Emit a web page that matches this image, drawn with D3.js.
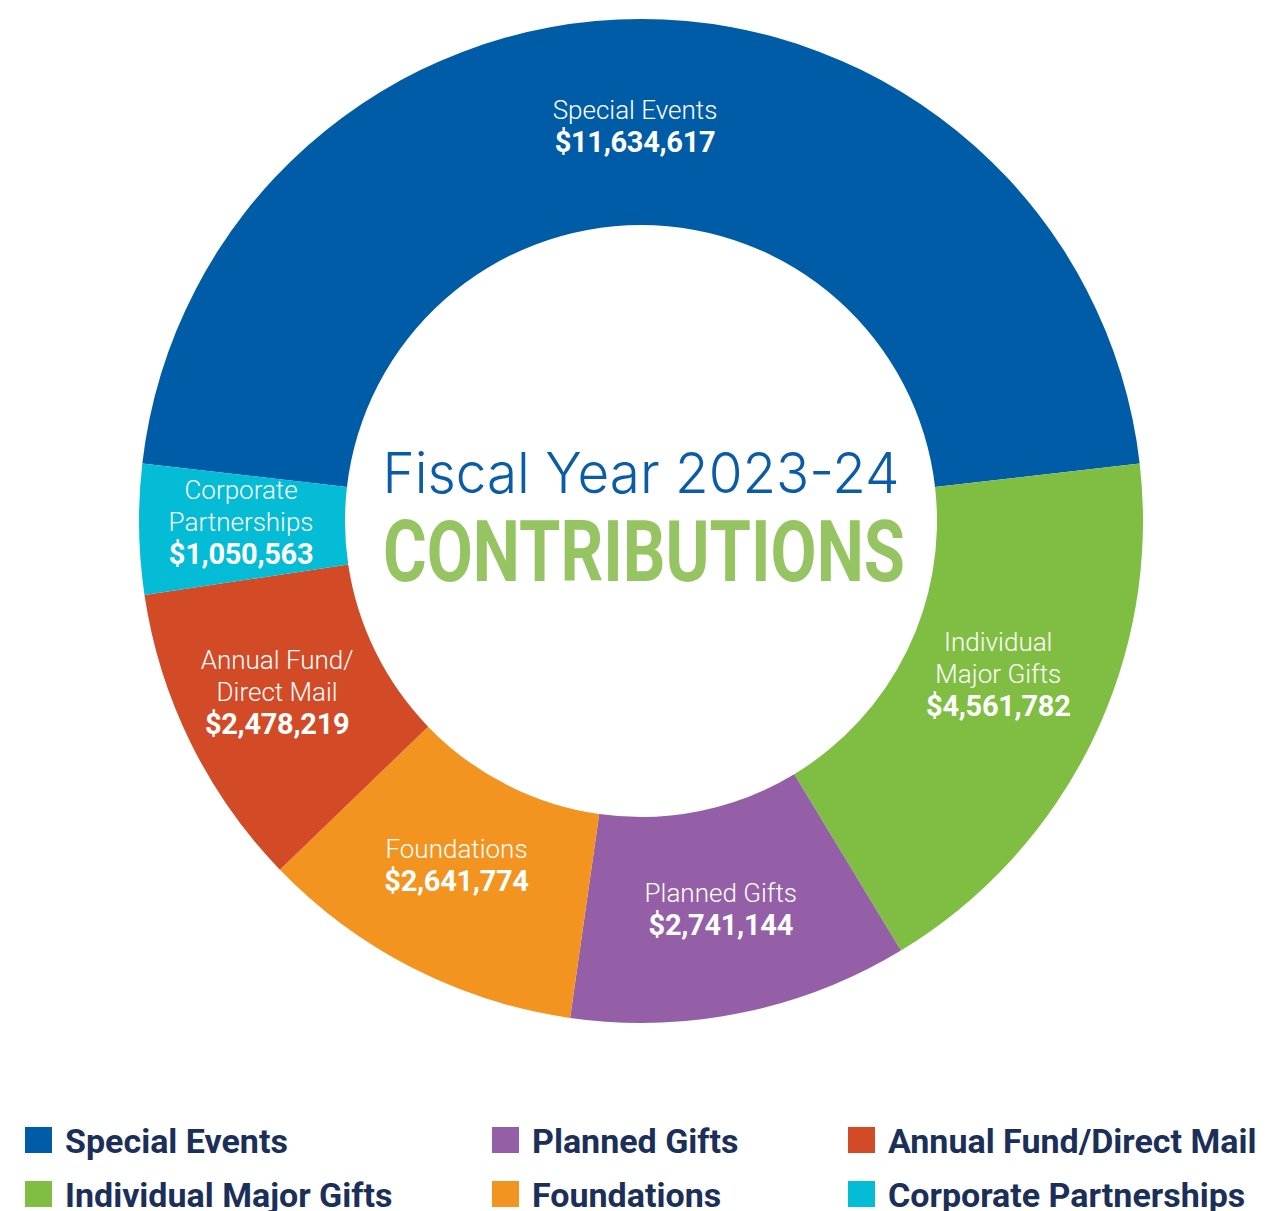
<!DOCTYPE html>
<html>
<head>
<meta charset="utf-8">
<script src="https://cdn.jsdelivr.net/npm/d3@7"></script>
<style>
  body { margin: 0; background: #fff; }
  svg { display: block; }
</style>
</head>
<body>
<div id="chart"></div>
<script>
// datos del grafico
const categories = [
  "Special Events",
  "Individual Major Gifts",
  "Planned Gifts",
  "Foundations",
  "Annual Fund/Direct Mail",
  "Corporate Partnerships",
];
const values = [11634617, 4561782, 2741144, 2641774, 2478219, 1050563];
const sliceLabels = [
  ["Special Events"],
  ["Individual", "Major Gifts"],
  ["Planned Gifts"],
  ["Foundations"],
  ["Annual Fund/", "Direct Mail"],
  ["Corporate", "Partnerships"],
];
const colors = ["#005ca6", "#7fbe42", "#955fa8", "#f39320", "#d34a27", "#04bcd5"];
// orden de la leyenda (columnas)
const legendOrder = [
  "Special Events",
  "Individual Major Gifts",
  "Planned Gifts",
  "Foundations",
  "Annual Fund/Direct Mail",
  "Corporate Partnerships",
];

const width = 1271;
const height = 1211;
const cx = 641;
const cy = 521;
const outerR = 502;
const innerR = 296;

const svg = d3
  .select("#chart")
  .append("svg")
  .attr("width", width)
  .attr("height", height);

const color = d3.scaleOrdinal().domain(categories).range(colors);

const data = categories.map((c, i) => ({ name: c, value: values[i], lines: sliceLabels[i] }));
const total = d3.sum(values);

// Special Events centrado arriba
const start = -(values[0] / total) * Math.PI;
const pie = d3
  .pie()
  .value((d) => d.value)
  .sort(null)
  .startAngle(start)
  .endAngle(start + 2 * Math.PI);

const arc = d3.arc().innerRadius(innerR).outerRadius(outerR);

const g = svg.append("g").attr("transform", `translate(${cx},${cy})`);

const arcs = pie(data);

g.selectAll("path")
  .data(arcs)
  .join("path")
  .attr("d", arc)
  .attr("fill", (d) => color(d.data.name));

// pequeños ajustes de las etiquetas
const nudge = {
  "Individual Major Gifts": [-1, -23],
  "Foundations": [-3, -11],
  "Planned Gifts": [0, -3],
  "Annual Fund/Direct Mail": [-6, -6],
  "Corporate Partnerships": [-1, -6],
  "Special Events": [-6, 4],
};

const lineH = 32;
const labels = g
  .selectAll(".slice-label")
  .data(arcs)
  .join("g")
  .attr("class", "slice-label")
  .attr("transform", (d) => {
    const [x, y] = arc.centroid(d);
    const n = nudge[d.data.name] || [0, 0];
    return `translate(${x + n[0]},${y + n[1]})`;
  });

labels.each(function (d) {
  const rows = d.data.lines.map((t) => ({ t, bold: false }));
  rows.push({ t: d3.format("$,")(d.data.value), bold: true });
  const off = ((rows.length - 1) * lineH) / 2;
  d3.select(this)
    .selectAll("text")
    .data(rows)
    .join("text")
    .attr("text-anchor", "middle")
    .attr("y", (r, i) => i * lineH - off)
    .attr("dy", "0.35em")
    .attr("fill", "#fff")
    .style("font-family", "Roboto, sans-serif")
    .style("font-weight", (r) => (r.bold ? 700 : 300))
    .style("font-size", (r) => (r.bold ? "29px" : "26px"))
    .style("letter-spacing", (r) => (r.bold ? "-0.3px" : "0px"))
    .text((r) => r.t);
});

// titulo central
svg
  .append("text")
  .attr("x", 641)
  .attr("y", 493)
  .attr("text-anchor", "middle")
  .attr("fill", "#0a5ca8")
  .attr("textLength", 517)
  .attr("lengthAdjust", "spacingAndGlyphs")
  .style("font-family", "Inter, 'Liberation Sans', sans-serif")
  .style("font-weight", 300)
  .style("font-size", "56px")
  .text("Fiscal Year 2023-24");

svg
  .append("text")
  .attr("x", 644)
  .attr("y", 581)
  .attr("text-anchor", "middle")
  .attr("fill", "#96c462")
  .attr("textLength", 522)
  .attr("lengthAdjust", "spacingAndGlyphs")
  .style("font-family", "Roboto, sans-serif")
  .style("font-weight", 700)
  .style("font-size", "86px")
  .text("CONTRIBUTIONS");

// leyenda
const colX = [25, 492, 848];
const rowY = [1127, 1181];
const legend = svg
  .selectAll(".legend")
  .data(legendOrder)
  .join("g")
  .attr("class", "legend")
  .attr("transform", (d, i) => `translate(${colX[Math.floor(i / 2)]},${rowY[i % 2]})`);

legend
  .append("rect")
  .attr("width", 27)
  .attr("height", 26)
  .attr("fill", (d) => color(d));

legend
  .append("text")
  .attr("x", 40)
  .attr("y", 26)
  .attr("fill", "#1b2f59")
  .style("font-family", "Roboto, sans-serif")
  .style("font-weight", 700)
  .style("font-size", "34px")
  .text((d) => d);
</script>
</body>
</html>
